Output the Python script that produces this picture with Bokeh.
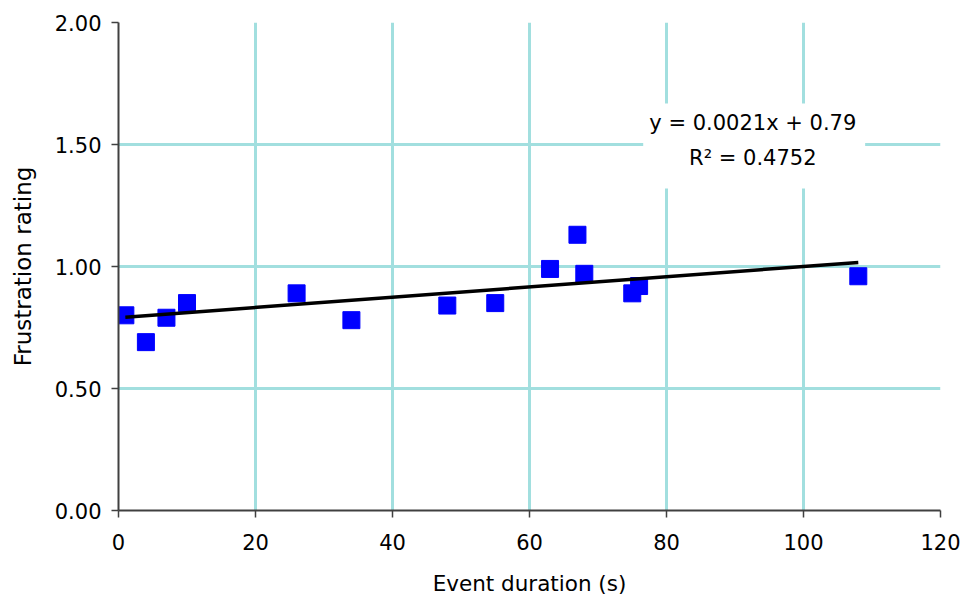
from bokeh.plotting import figure
from bokeh.models import (Range1d, FixedTicker, PrintfTickFormatter, Label,
                          BoxAnnotation, ColumnDataSource)
from bokeh.embed import file_html
from bokeh.resources import INLINE

# Event duration (s) and the frustration rating recorded for each event
duration = [1, 4, 7, 10, 26, 34, 48, 55, 63, 67, 68, 75, 76, 108]
frustration = [0.80, 0.69, 0.79, 0.85, 0.89, 0.78, 0.84, 0.85,
               0.99, 1.13, 0.97, 0.89, 0.92, 0.96]

# Linear trend fitted to the points
slope = 0.0021
intercept = 0.79
r_squared = 0.4752

x_ticks = [0, 20, 40, 60, 80, 100, 120]
y_ticks = [0.0, 0.5, 1.0, 1.5, 2.0]

FONT = "DejaVu Sans"
GRID = "#a2dfdf"
AXIS = "#404040"

p = figure(width=964, height=601, output_backend="svg", toolbar_location=None,
           x_range=Range1d(0, 120), y_range=Range1d(0, 2),
           min_border_left=118, min_border_right=24,
           min_border_top=22, min_border_bottom=91)
p.outline_line_color = None
p.background_fill_color = "white"
p.border_fill_color = "white"

# grid
p.xgrid.ticker = FixedTicker(ticks=x_ticks)
p.ygrid.ticker = FixedTicker(ticks=y_ticks)
for g in (p.xgrid, p.ygrid):
    g.grid_line_color = GRID
    g.grid_line_width = 3

# axes
p.xaxis.ticker = FixedTicker(ticks=x_ticks)
p.yaxis.ticker = FixedTicker(ticks=y_ticks)
p.yaxis.formatter = PrintfTickFormatter(format="%.2f")
p.xaxis.axis_label = "Event duration (s)"
p.yaxis.axis_label = "Frustration rating"
for ax in (p.xaxis, p.yaxis):
    ax.axis_line_color = AXIS
    ax.axis_line_width = 2
    ax.major_tick_line_color = AXIS
    ax.major_tick_line_width = 1.5
    ax.major_tick_out = 7
    ax.major_tick_in = 0
    ax.minor_tick_line_color = None
    ax.major_label_text_font = FONT
    ax.major_label_text_font_size = "21px"
    ax.major_label_text_color = "black"
    ax.axis_label_text_font = FONT
    ax.axis_label_text_font_style = "normal"
    ax.axis_label_text_color = "black"
p.xaxis.axis_label_text_font_size = "21.5px"
p.yaxis.axis_label_text_font_size = "23px"
p.xaxis.major_label_standoff = 16
p.yaxis.major_label_standoff = 10
p.xaxis.axis_label_standoff = 18
p.yaxis.axis_label_standoff = 16

# data points
src = ColumnDataSource(dict(x=duration, y=frustration))
p.scatter("x", "y", source=src, marker="square", size=17,
          fill_color="#0000ff", line_color="#0000ff")

# trend line across the observed duration span
x0, x1 = min(duration), max(duration)
p.line([x0, x1], [slope * x0 + intercept, slope * x1 + intercept],
       line_color="black", line_width=3.5)

# equation box
p.add_layout(BoxAnnotation(left=76.6, right=109.0, bottom=1.32, top=1.668,
                           fill_color="white", fill_alpha=1.0,
                           line_color=None))
p.add_layout(Label(x=92.6, y=1.59, text=f"y = {slope:.4f}x + {intercept:.2f}",
                   text_align="center", text_baseline="middle",
                   text_font=FONT, text_font_size="21px", text_color="black"))
p.add_layout(Label(x=92.6, y=1.443, text=f"R\u00b2 = {r_squared:.4f}",
                   text_align="center", text_baseline="middle",
                   text_font=FONT, text_font_size="21px", text_color="black"))

open("out.html", "w").write(file_html(p, INLINE))
